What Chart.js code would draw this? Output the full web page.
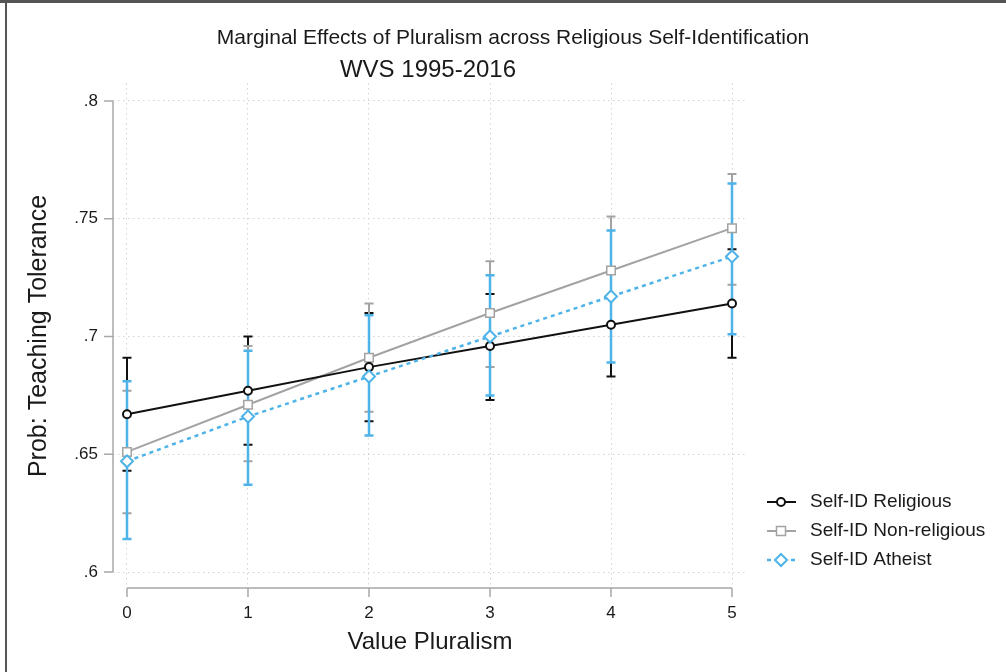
<!DOCTYPE html>
<html>
<head>
<meta charset="utf-8">
<script src="https://cdn.jsdelivr.net/npm/chart.js@4"></script>
<style>
html,body{margin:0;padding:0;background:#fff;}
#wrap{position:relative;width:1006px;height:672px;}
</style>
</head>
<body>
<div id="wrap"><canvas id="c" width="1006" height="672"></canvas></div>
<script>
// ---- data ----
const categories = [0, 1, 2, 3, 4, 5];
const religious   = [0.667, 0.677, 0.687, 0.696, 0.705, 0.714];
const religiousLo = [0.643, 0.654, 0.664, 0.673, 0.683, 0.691];
const religiousHi = [0.691, 0.700, 0.710, 0.718, 0.727, 0.737];
const nonrel      = [0.651, 0.671, 0.691, 0.710, 0.728, 0.746];
const nonrelLo    = [0.625, 0.647, 0.668, 0.687, 0.705, 0.722];
const nonrelHi    = [0.677, 0.696, 0.714, 0.732, 0.751, 0.769];
const atheist     = [0.647, 0.666, 0.683, 0.700, 0.717, 0.734];
const atheistLo   = [0.614, 0.637, 0.658, 0.675, 0.689, 0.701];
const atheistHi   = [0.681, 0.694, 0.709, 0.726, 0.745, 0.765];
const yTickValues = [0.6, 0.65, 0.7, 0.75, 0.8];
const yTickLabels = ['.6', '.65', '.7', '.75', '.8'];
const xTickValues = [0, 1, 2, 3, 4, 5];
const seriesNames = ['Self-ID Religious', 'Self-ID Non-religious', 'Self-ID Atheist'];
const titleText = 'Marginal Effects of Pluralism across Religious Self-Identification';
const subtitleText = 'WVS 1995-2016';
const xTitle = 'Value Pluralism';
const yTitle = 'Prob: Teaching Tolerance';

const BLACK = '#111111', GRAY = '#a3a3a3', BLUE = '#4db3e8';
const FONT = '"Liberation Sans", Arial, sans-serif';

function pts(vals){ return categories.map((c,i)=>({x:c, y:vals[i]})); }

const errSets = [
  {lo: religiousLo, hi: religiousHi, color: BLACK, w: 2},
  {lo: nonrelLo, hi: nonrelHi, color: GRAY, w: 2},
  {lo: atheistLo, hi: atheistHi, color: BLUE, w: 2.5}
];

const errorBars = {
  id: 'errorBars',
  beforeDatasetsDraw(chart){
    const ctx = chart.ctx, xs = chart.scales.x, ys = chart.scales.y;
    ctx.save();
    errSets.forEach(s=>{
      ctx.strokeStyle = s.color; ctx.lineWidth = s.w; ctx.setLineDash([]);
      categories.forEach((c,i)=>{
        const x = xs.getPixelForValue(c);
        const y1 = ys.getPixelForValue(s.lo[i]), y2 = ys.getPixelForValue(s.hi[i]);
        ctx.beginPath();
        ctx.moveTo(x, y1); ctx.lineTo(x, y2);
        ctx.moveTo(x-4.5, y1); ctx.lineTo(x+4.5, y1);
        ctx.moveTo(x-4.5, y2); ctx.lineTo(x+4.5, y2);
        ctx.stroke();
      });
    });
    ctx.restore();
  }
};

const decor = {
  id: 'decor',
  afterDraw(chart){
    const ctx = chart.ctx, xs = chart.scales.x, ys = chart.scales.y;
    const ca = chart.chartArea;
    ctx.save();
    // frame
    ctx.fillStyle = '#555';
    ctx.fillRect(0, 0, 1006, 3);
    ctx.fillRect(5, 0, 2, 672);
    // axes
    ctx.strokeStyle = '#a8a8a8'; ctx.lineWidth = 1.5; ctx.setLineDash([]);
    const yTop = ys.getPixelForValue(yTickValues[yTickValues.length-1]);
    const yBot = ys.getPixelForValue(yTickValues[0]);
    ctx.beginPath();
    ctx.moveTo(ca.left, yTop); ctx.lineTo(ca.left, yBot);
    yTickValues.forEach(v=>{ const y = ys.getPixelForValue(v); ctx.moveTo(ca.left-9, y); ctx.lineTo(ca.left, y); });
    const xL = xs.getPixelForValue(xTickValues[0]), xR = xs.getPixelForValue(xTickValues[xTickValues.length-1]);
    ctx.moveTo(xL, ca.bottom); ctx.lineTo(xR, ca.bottom);
    xTickValues.forEach(v=>{ const x = xs.getPixelForValue(v); ctx.moveTo(x, ca.bottom); ctx.lineTo(x, ca.bottom+9); });
    ctx.stroke();
    // titles
    ctx.fillStyle = '#1a1a1a';
    ctx.textAlign = 'center'; ctx.textBaseline = 'middle';
    ctx.font = '21px ' + FONT;
    ctx.fillText(titleText, 513, 38);
    ctx.font = '24px ' + FONT;
    ctx.fillText(subtitleText, 428, 70);
    ctx.font = '24px ' + FONT;
    ctx.fillText(xTitle, 430, 642);
    ctx.save();
    ctx.translate(39, 336); ctx.rotate(-Math.PI/2);
    ctx.font = '25px ' + FONT;
    ctx.fillText(yTitle, 0, 0);
    ctx.restore();
    // legend
    const rows = [502, 531, 560];
    chart.data.datasets.forEach((ds, i)=>{
      const y = rows[i];
      ctx.strokeStyle = ds.borderColor; ctx.lineWidth = ds.borderWidth;
      ctx.setLineDash(ds.borderDash || []);
      ctx.beginPath(); ctx.moveTo(767, y); ctx.lineTo(796, y); ctx.stroke();
      ctx.setLineDash([]);
      drawMarker(ctx, ds.pointStyle, 781, y, ds.pointRadius, ds.borderColor, ds.pointBorderWidth);
      ctx.fillStyle = '#1a1a1a'; ctx.textAlign = 'left';
      ctx.font = '19px ' + FONT;
      ctx.fillText(ds.label, 810, y);
    });
    ctx.restore();
  }
};

function drawMarker(ctx, style, x, y, r, color, lw){
  ctx.save();
  ctx.fillStyle = '#fff'; ctx.strokeStyle = color; ctx.lineWidth = lw;
  ctx.beginPath();
  if (style === 'circle') ctx.arc(x, y, r, 0, Math.PI*2);
  else if (style === 'rect') { ctx.rect(x - r*0.75, y - r*0.75, r*1.5, r*1.5); }
  else if (style === 'rectRot') { ctx.moveTo(x, y-r); ctx.lineTo(x+r, y); ctx.lineTo(x, y+r); ctx.lineTo(x-r, y); ctx.closePath(); }
  ctx.fill(); ctx.stroke();
  ctx.restore();
}

new Chart(document.getElementById('c'), {
  type: 'line',
  data: {
    datasets: [
      { label: seriesNames[0], data: pts(religious), borderColor: BLACK, borderWidth: 2,
        pointStyle: 'circle', pointRadius: 4, pointBorderWidth: 2, pointBackgroundColor: '#fff', pointBorderColor: BLACK, order: 2 },
      { label: seriesNames[1], data: pts(nonrel), borderColor: GRAY, borderWidth: 2,
        pointStyle: 'rect', pointRadius: 6, pointBorderWidth: 1.5, pointBackgroundColor: '#fff', pointBorderColor: GRAY, order: 3 },
      { label: seriesNames[2], data: pts(atheist), borderColor: BLUE, borderWidth: 2.5, borderDash: [4, 4],
        pointStyle: 'rectRot', pointRadius: 6, pointBorderWidth: 2, pointBackgroundColor: '#fff', pointBorderColor: BLUE, order: 1 }
    ]
  },
  options: {
    responsive: false, animation: false,
    layout: { padding: { top: 83, right: 260, left: 0, bottom: 0 } },
    plugins: { legend: { display: false }, title: { display: false }, tooltip: { enabled: false } },
    elements: { line: { tension: 0 } },
    scales: {
      x: {
        type: 'linear', min: -0.1157, max: 5.1157,
        afterFit(s){ s.height = 84; },
        afterBuildTicks(s){ s.ticks = xTickValues.map(v=>({value:v})); },
        grid: { color: '#d4d4d4', lineWidth: 1, drawTicks: false },
        border: { display: false, dash: [1.5, 3.5] },
        ticks: { color: '#1a1a1a', font: { family: FONT, size: 17 }, padding: 15, callback: v => String(v) }
      },
      y: {
        type: 'linear', min: 0.59321, max: 0.80764,
        afterFit(s){ s.width = 113; },
        afterBuildTicks(s){ s.ticks = yTickValues.map(v=>({value:v})); },
        grid: { color: '#d4d4d4', lineWidth: 1, drawTicks: false },
        border: { display: false, dash: [1.5, 3.5] },
        ticks: { color: '#1a1a1a', font: { family: FONT, size: 17 }, padding: 15,
          callback: (v) => { const i = yTickValues.findIndex(t => Math.abs(t - v) < 1e-9); return i >= 0 ? yTickLabels[i] : ''; } }
      }
    }
  },
  plugins: [errorBars, decor]
});
</script>
</body>
</html>
